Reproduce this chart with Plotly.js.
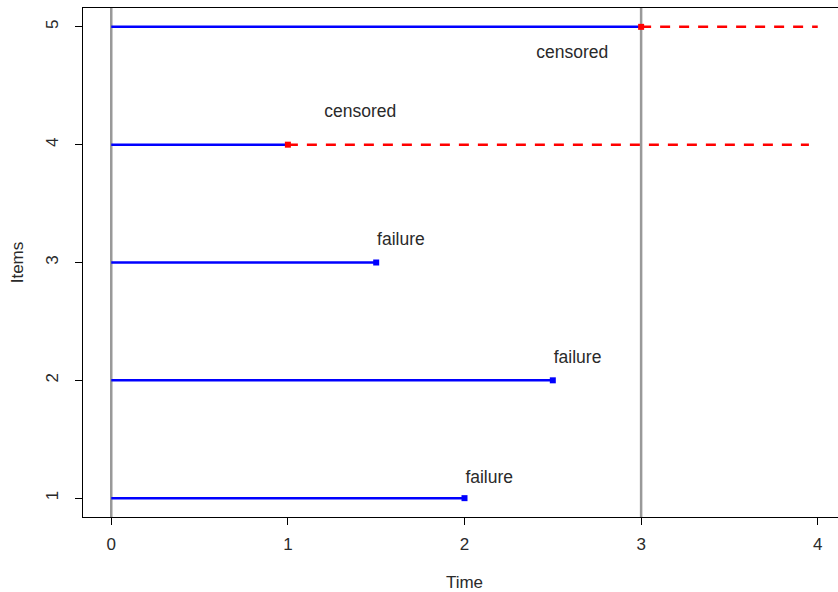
<!DOCTYPE html>
<html>
<head>
<meta charset="utf-8">
<script src="https://cdn.plot.ly/plotly-3.0.1.min.js"></script>
<style>
html, body { margin: 0; padding: 0; overflow: hidden; background: #fff; }
#chart { width: 848px; height: 592px; }
</style>
</head>
<body>
<div id="chart"></div>
<script>
// Data
var items = [1, 2, 3, 4, 5];
var endTimes = [2, 2.5, 1.5, 1, 3];
var itemStatus = ['failure', 'failure', 'failure', 'censored', 'censored'];
var censorEnd = [null, null, null, 3.95, 4];
var labelX = [2.14, 2.64, 1.64, 1.41, 2.61];
var labelY = [1.165, 2.185, 3.185, 4.275, 4.775];
var refLines = [0, 3];
var xTicks = [0, 1, 2, 3, 4];
var yTicks = [1, 2, 3, 4, 5];

var traces = [];
// blue lifetime segments
items.forEach(function (it, i) {
  traces.push({
    x: [0, endTimes[i]], y: [it, it], mode: 'lines', type: 'scatter',
    line: { color: '#0000ff', width: 2.5 }, hoverinfo: 'skip', showlegend: false
  });
});
// red dashed censored continuation
items.forEach(function (it, i) {
  if (censorEnd[i] !== null) {
    traces.push({
      x: [endTimes[i], censorEnd[i]], y: [it, it], mode: 'lines', type: 'scatter',
      line: { color: '#ff0000', width: 2.5, dash: '10px,9px' }, hoverinfo: 'skip', showlegend: false
    });
  }
});
// end markers
traces.push({
  x: endTimes, y: items, mode: 'markers', type: 'scatter',
  marker: {
    symbol: 'square', size: 6,
    color: itemStatus.map(function (s) { return s === 'failure' ? '#0000ff' : '#ff0000'; })
  },
  hoverinfo: 'skip', showlegend: false
});
// labels
traces.push({
  x: labelX, y: labelY, mode: 'text', type: 'scatter', text: itemStatus,
  textposition: 'middle center',
  textfont: { family: 'Liberation Sans, Arial, sans-serif', size: 17.5, color: '#2a2a2a' },
  hoverinfo: 'skip', showlegend: false
});

var axisFont = { family: 'Liberation Sans, Arial, sans-serif', size: 17, color: '#2a2a2a' };

var layout = {
  width: 848, height: 592,
  margin: { l: 83, r: 2, t: 8, b: 75 },
  paper_bgcolor: '#fff', plot_bgcolor: '#fff',
  font: axisFont,
  xaxis: {
    range: [-0.16, 4.16], tickvals: xTicks, ticktext: xTicks.map(String),
    showgrid: false, zeroline: false,
    showline: true, mirror: true, linecolor: '#000', linewidth: 1,
    ticks: 'outside', ticklen: 7, tickcolor: '#000', tickwidth: 1,
    ticklabelstandoff: 5,
    tickfont: axisFont,
    title: { text: 'Time', font: axisFont, standoff: 25 }
  },
  yaxis: {
    range: [0.84, 5.16], tickvals: yTicks, ticktext: yTicks.map(String),
    showgrid: false, zeroline: false,
    showline: true, mirror: true, linecolor: '#000', linewidth: 1,
    ticks: 'outside', ticklen: 7, tickcolor: '#000', tickwidth: 1,
    ticklabelstandoff: 10,
    tickangle: -90, tickfont: axisFont,
    title: { text: 'Items', font: axisFont, standoff: 15 }
  },
  shapes: refLines.map(function (v) {
    return { type: 'line', xref: 'x', yref: 'paper', x0: v, x1: v, y0: 0, y1: 1,
             line: { color: '#999999', width: 2.5 }, layer: 'below' };
  })
};

Plotly.newPlot('chart', traces, layout, { displayModeBar: false, staticPlot: true });
</script>
</body>
</html>
